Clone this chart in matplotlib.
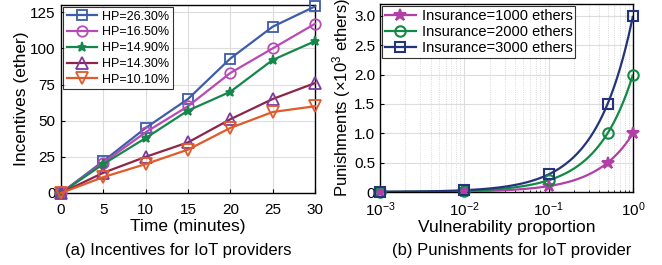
import matplotlib
matplotlib.use("Agg")
import matplotlib.pyplot as plt
import numpy as np
from matplotlib.path import Path
from matplotlib.patches import PathPatch

plt.rcParams['font.family'] = ['Liberation Sans', 'DejaVu Sans']
plt.rcParams['mathtext.fontset'] = 'custom'
plt.rcParams['mathtext.rm'] = 'Liberation Sans'
plt.rcParams['mathtext.it'] = 'Liberation Sans'

# (a) incentives
minutes = [0, 5, 10, 15, 20, 25, 30]
hp_labels = ['HP=26.30%', 'HP=16.50%', 'HP=14.90%', 'HP=14.30%', 'HP=10.10%']
hp_2630 = [0, 22, 45, 65, 93, 115, 129]
hp_1650 = [0, 21, 42, 60, 83, 100, 117]
hp_1490 = [0, 20, 38, 57, 70, 92, 105]
hp_1430 = [0, 14, 25, 35, 51, 65, 76]
hp_1010 = [0, 11, 20, 30, 45, 56, 60]

# (b) punishments (x10^3 ethers)
vuln = [0.001, 0.01, 0.1, 0.5, 1.0]
ins_labels = ['Insurance=1000 ethers', 'Insurance=2000 ethers', 'Insurance=3000 ethers']
ins_1000 = [0.001, 0.01, 0.1, 0.5, 1.0]
ins_2000 = [0.002, 0.02, 0.2, 1.0, 2.0]
ins_3000 = [0.003, 0.03, 0.3, 1.5, 3.0]

fig = plt.figure(figsize=(6.62, 2.65), dpi=100)
ax1 = fig.add_axes([61/662, 1 - 193/265, 254/662, 188/265])
ax2 = fig.add_axes([380/662, 1 - 192/265, 253/662, 188/265])

# ---- left
styles = [
    (hp_2630, '#3D5DAA', '#3D5DAA', 's', 'none', 7),
    (hp_1650, '#B84AB5', '#B84AB5', 'o', 'none', 7.5),
    (hp_1490, '#15874A', '#15874A', '*', '#15874A', 6.5),
    (hp_1430, '#8E2447', '#7E3A9C', '^', 'none', 8),
    (hp_1010, '#E05A2B', '#E05A2B', 'v', 'none', 8),
]
for (vals, lc, mc, mk, mf, ms), lab in zip(styles, hp_labels):
    ax1.plot(minutes, vals, color=lc, lw=1.6, marker=mk, ms=ms,
             mec=mc, mfc=mf, mew=1.3, label=lab, clip_on=False, zorder=3)

ax1.set_xlim(0, 30)
ax1.set_ylim(0, 130)
ax1.set_xticks(minutes)
ax1.set_yticks([0, 25, 50, 75, 100, 125])
ax1.grid(True, color='#dddddd', lw=0.8)
ax1.set_xlabel('Time (minutes)', fontsize=12.5, labelpad=1)
ax1.set_ylabel('Incentives (ether)', fontsize=12.5, labelpad=1)
ax1.tick_params(direction='in', labelsize=11, length=3)
ax1.tick_params(axis='x', pad=7.5)
ax1.tick_params(axis='y', pad=4)
leg1 = ax1.legend(loc='upper left', fontsize=9, frameon=True, fancybox=False,
                  edgecolor='black', borderpad=0.3, labelspacing=0.3,
                  handlelength=2.4, handletextpad=0.4, borderaxespad=0.15)
leg1.get_frame().set_linewidth(0.8)

# ---- right
rstyles = [
    (ins_1000, '#B23FA6', '*', '#B23FA6', 9),
    (ins_2000, '#118A45', 'o', 'none', 7.5),
    (ins_3000, '#24347C', 's', 'none', 6.5),
]
for (vals, c, mk, mf, ms), lab in zip(rstyles, ins_labels):
    # straight segments in data space, drawn through the log transform
    path = Path(np.column_stack([vuln, vals])).interpolated(60)
    ax2.add_patch(PathPatch(path, fill=False, edgecolor=c, lw=1.6,
                            transform=ax2.transData, zorder=3))
    ax2.plot(vuln, vals, ls='none', marker=mk, ms=ms,
             mec=c, mfc=mf, mew=1.5, clip_on=False, zorder=4)
    ax2.plot([], [], color=c, lw=1.6, marker=mk, ms=ms,
             mec=c, mfc=mf, mew=1.5, label=lab)

ax2.set_xscale('log')
ax2.set_xlim(0.001, 1)
ax2.set_ylim(0, 3.2)
ax2.set_yticks([0, 0.5, 1.0, 1.5, 2.0, 2.5, 3.0])
ax2.set_yticklabels(['0', '0.5', '1.0', '1.5', '2.0', '2.5', '3.0'])
ax2.grid(True, which='major', color='#dddddd', lw=0.8)
ax2.grid(True, which='minor', axis='x', color='#cccccc', lw=0.6, ls=':')
ax2.set_xlabel('Vulnerability proportion', fontsize=12.5, labelpad=1)
ax2.set_ylabel('Punishments (×10$^3$ ethers)', fontsize=12, labelpad=1)
ax2.tick_params(which='both', direction='in', labelsize=11)
ax2.tick_params(which='major', length=3)
ax2.tick_params(which='minor', length=1.5)
ax2.tick_params(axis='x', which='both', pad=6)
ax2.tick_params(axis='y', pad=3.5)
leg2 = ax2.legend(loc='upper left', fontsize=10.5, frameon=True, fancybox=False,
                  edgecolor='black', borderpad=0.2, labelspacing=0.15,
                  handlelength=2.1, handletextpad=0.4, borderaxespad=0.15)
leg2.get_frame().set_linewidth(0.8)

for ax in (ax1, ax2):
    for s in ax.spines.values():
        s.set_linewidth(1.0)

fig.text(178/662, 1 - 251/265, '(a) Incentives for IoT providers', ha='center', va='center', fontsize=12)
fig.text(512/662, 1 - 251/265, '(b) Punishments for IoT provider', ha='center', va='center', fontsize=12)

fig.savefig('out.png', dpi=100)
